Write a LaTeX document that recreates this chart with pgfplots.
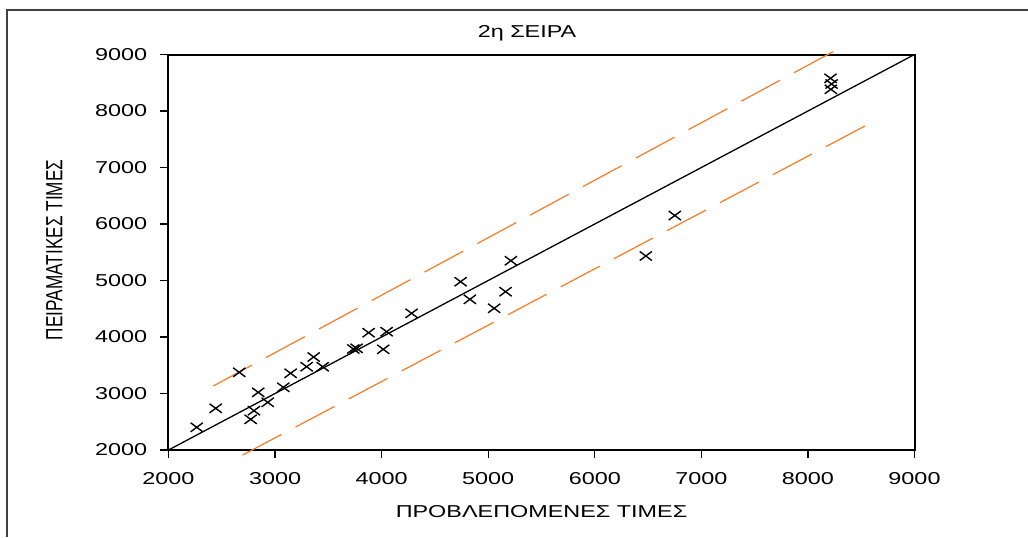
\documentclass[border=0pt]{standalone}
\usepackage{graphicx}
\usepackage{pgfplots}
\pgfplotsset{compat=1.18}
\usepackage{fontspec}
\setmainfont{Liberation Sans}[FakeStretch=1.36]
\newfontfamily\plainsans{Liberation Sans}
\definecolor{bandorange}{RGB}{250,122,34}

% measured vs. predicted values
\pgfplotstableread{
x y
2265 2402
2443 2738
2664 3375
2771 2543
2802 2696
2842 3021
2931 2844
3077 3110
3146 3358
3296 3474
3362 3646
3447 3474
3734 3788
3765 3800
3878 4076
4047 4094
4015 3782
4281 4419
4741 4979
4828 4667
5056 4508
5163 4802
5213 5350
6479 5434
6751 6150
8212 8579
8222 8478
8215 8384
}\points

\begin{document}
\begin{tikzpicture}[x=1pt,y=1pt]
\path[use as bounding box] (0,0) rectangle (514,268.5);
\draw[black!75, line width=1pt] (3.5,0) -- (3.5,263.5) -- (514,263.5);
\begin{axis}[
  at={(84.25pt,43.5pt)}, anchor=south west,
  scale only axis, width=373pt, height=197.75pt,
  xmin=2000, xmax=9000, ymin=2000, ymax=9000,
  xtick={2000,3000,...,9000}, ytick={2000,3000,...,9000},
  scaled ticks=false,
  /pgf/number format/1000 sep={},
  /pgf/number format/assume math mode=true,
  tick pos=left, tick align=outside,
  major tick length=4pt,
  every tick/.style={black, line width=0.6pt},
  axis line style={line width=1pt},
  clip=false,
  font=\fontsize{8.6pt}{10pt}\selectfont,
  xticklabel style={anchor=base, inner sep=0pt, yshift=-13pt},
  yticklabel style={anchor=east, inner sep=0pt, xshift=-6.5pt},
  every axis title/.style={at={(axis description cs:0.4806,1)}, anchor=base, yshift=8.4pt},
  every axis x label/.style={at={(axis description cs:0.5,0)}, anchor=base, yshift=-33.5pt},
  every axis y label/.style={at={(axis description cs:-0.1530,0.506)}, anchor=center, rotate=90},
  title={2η ΣΕΙΡΑ},
  xlabel={ΠΡΟΒΛΕΠΟΜΕΝΕΣ ΤΙΜΕΣ},
  ylabel={\scalebox{1}[1.36]{\plainsans ΠΕΙΡΑΜΑΤΙΚΕΣ ΤΙΜΕΣ}},
]
% bounds of the band
\addplot[bandorange, line width=0.6pt, dash pattern=on 22pt off 8pt]
  coordinates {(2420,3133) (8252,9067)};
\addplot[bandorange, line width=0.6pt, dash pattern=on 22pt off 8pt]
  coordinates {(2695,1911) (8600,7800)};
% line of equality
\addplot[black, line width=0.65pt] coordinates {(2000,2000) (9000,9000)};
% data points
\addplot[only marks, mark=x, mark size=3.2pt,
  mark options={xscale=1.35, line width=0.7pt, black}] table {\points};
\end{axis}
\end{tikzpicture}
\end{document}
